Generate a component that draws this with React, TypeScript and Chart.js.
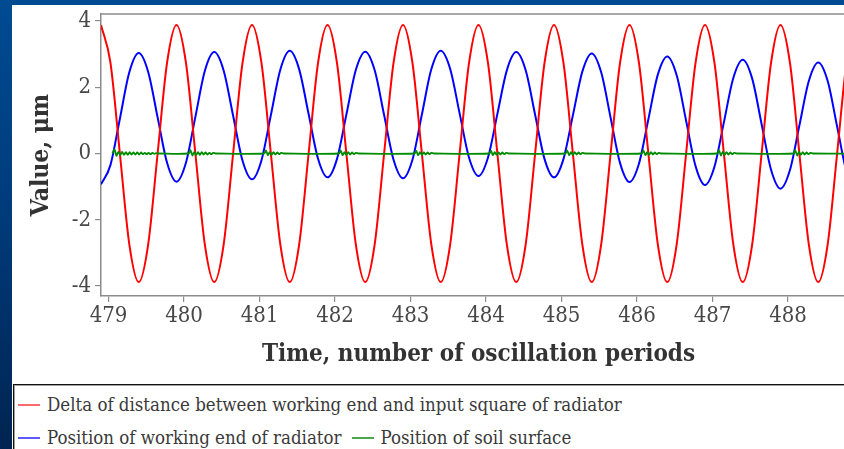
import React, { useEffect, useRef } from "react";
import { Chart, registerables } from "chart.js";

Chart.register(...registerables);

// ---------- data ----------
const X_MIN = 478.9;
const X_MAX = 488.9;
const Y_MIN = -4.3;
const Y_MAX = 4.21;
const xTicks = [479, 480, 481, 482, 483, 484, 485, 486, 487, 488];
const yTicks = [-4, -2, 0, 2, 4];

// sample times: start + step * index (oscillation periods)
const sampleStart = 478.9;
const sampleStep = 0.125;

const redValues = [
  3.88, 2.74, 0, -2.74, -3.88, -2.74, 0, 2.74,
  3.88, 2.74, 0, -2.74, -3.88, -2.74, 0, 2.74,
  3.88, 2.74, 0, -2.74, -3.88, -2.74, 0, 2.74,
  3.88, 2.74, 0, -2.74, -3.88, -2.74, 0, 2.74,
  3.88, 2.74, 0, -2.74, -3.88, -2.74, 0, 2.74,
  3.88, 2.74, 0, -2.74, -3.88, -2.74, 0, 2.74,
  3.88, 2.74, 0, -2.74, -3.88, -2.74, 0, 2.74,
  3.88, 2.74, 0, -2.74, -3.88, -2.74, 0, 2.74,
  3.88, 2.74, 0, -2.74, -3.88, -2.74, 0, 2.74,
  3.88, 2.74, 0, -2.74, -3.88, -2.74, 0, 2.74,
  3.88,
];

const blueValues = [
  -0.93, -0.35, 1.05, 2.45, 3.03, 2.46, 1.09, -0.28,
  -0.85, -0.28, 1.105, 2.49, 3.06, 2.5, 1.14, -0.22,
  -0.78, -0.21, 1.16, 2.53, 3.1, 2.54, 1.19, -0.16,
  -0.72, -0.17, 1.175, 2.52, 3.07, 2.51, 1.16, -0.19,
  -0.75, -0.19, 1.175, 2.54, 3.1, 2.55, 1.21, -0.13,
  -0.68, -0.13, 1.19, 2.51, 3.06, 2.51, 1.17, -0.17,
  -0.72, -0.17, 1.15, 2.47, 3.02, 2.45, 1.08, -0.29,
  -0.86, -0.31, 1.035, 2.38, 2.93, 2.36, 0.99, -0.38,
  -0.95, -0.4, 0.94, 2.28, 2.83, 2.26, 0.885, -0.49,
  -1.06, -0.5, 0.845, 2.19, 2.75, 2.19, 0.815, -0.56,
  -1.12,
];

const greenPoints: [number, number][] = [
  [479.05, 0], [479.08, 0.12], [479.105, -0.07], [479.13, 0.05], [479.155, -0.05],
  [479.18, 0.05], [479.205, -0.04], [479.23, 0.04], [479.255, -0.04], [479.28, 0.04],
  [479.305, -0.03], [479.33, 0.03], [479.355, -0.03], [479.38, 0.03], [479.405, -0.03],
  [479.43, 0.03], [479.455, -0.02], [479.48, 0.02], [479.505, -0.02], [479.53, 0.02],
  [479.555, -0.02], [479.58, 0.02], [479.605, -0.01], [479.63, 0.01], [479.66, 0],
  [480.06, 0], [480.085, 0.1], [480.11, -0.06], [480.135, 0.05], [480.16, -0.05],
  [480.185, 0.04], [480.21, -0.04], [480.235, 0.04], [480.26, -0.03], [480.285, 0.03],
  [480.31, -0.03], [480.335, 0.02], [480.36, -0.02], [480.385, 0.02], [480.42, 0],
  [481.06, 0], [481.085, 0.09], [481.11, -0.05], [481.135, 0.04], [481.16, -0.04],
  [481.185, 0.04], [481.21, -0.03], [481.235, 0.03], [481.26, -0.02], [481.285, 0.02], [481.32, 0],
  [482.05, 0], [482.075, 0.09], [482.1, -0.05], [482.125, 0.04], [482.15, -0.04],
  [482.175, 0.04], [482.2, -0.03], [482.225, 0.03], [482.25, -0.02], [482.275, 0.02], [482.31, 0],
  [483.05, 0], [483.075, 0.08], [483.1, -0.05], [483.125, 0.04], [483.15, -0.04],
  [483.175, 0.03], [483.2, -0.03], [483.225, 0.03], [483.25, -0.02], [483.275, 0.02], [483.31, 0],
  [484.04, 0], [484.065, 0.08], [484.09, -0.05], [484.115, 0.04], [484.14, -0.04],
  [484.165, 0.03], [484.19, -0.03], [484.215, 0.03], [484.24, -0.02], [484.265, 0.02], [484.3, 0],
  [485.05, 0], [485.075, 0.09], [485.1, -0.05], [485.125, 0.04], [485.15, -0.04],
  [485.175, 0.04], [485.2, -0.03], [485.225, 0.03], [485.25, -0.02], [485.275, 0.02], [485.31, 0],
  [486.06, 0], [486.085, 0.09], [486.11, -0.05], [486.135, 0.04], [486.16, -0.04],
  [486.185, 0.04], [486.21, -0.03], [486.235, 0.03], [486.26, -0.02], [486.285, 0.02], [486.32, 0],
  [487.06, 0], [487.085, 0.1], [487.11, -0.06], [487.135, 0.05], [487.16, -0.04],
  [487.185, 0.04], [487.21, -0.03], [487.235, 0.03], [487.26, -0.02], [487.285, 0.02], [487.32, 0],
  [488.07, 0], [488.095, 0.1], [488.12, -0.06], [488.145, 0.05], [488.17, -0.04],
  [488.195, 0.04], [488.22, -0.03], [488.245, 0.03], [488.27, -0.02], [488.295, 0.02], [488.33, 0],
  [488.9, 0],
];

const seriesNames = [
  "Delta of distance between working end and input square of radiator",
  "Position of working end of radiator",
  "Position of soil surface",
];
const xTitle = "Time, number of oscillation periods";
const yTitle = "Value, \u03bcm";

// ---------- styles ----------
const RED = "#ff0000";
const BLUE = "#0000ff";
const GREEN = "#008c00";
const AXIS = "#8c8c8c";
const SERIF = "'DejaVu Serif Condensed', 'DejaVu Serif', serif";

const framePlugin = {
  id: "frameTop",
  afterDraw(chart: any) {
    const { ctx, chartArea } = chart;
    ctx.save();
    ctx.strokeStyle = AXIS;
    ctx.lineWidth = 1.5;
    ctx.beginPath();
    ctx.moveTo(chartArea.left, chartArea.top);
    ctx.lineTo(chartArea.right, chartArea.top);
    ctx.stroke();
    ctx.restore();
  },
};

export default function App() {
  const canvasRef = useRef<HTMLCanvasElement | null>(null);

  useEffect(() => {
    if (!canvasRef.current) return;
    const toXY = (vals: number[]) =>
      vals.map((v, i) => ({ x: sampleStart + i * sampleStep, y: v }));
    const chart = new Chart(canvasRef.current, {
      type: "line",
      data: {
        datasets: [
          {
            label: seriesNames[0],
            data: toXY(redValues),
            borderColor: RED,
            borderWidth: 2,
            pointRadius: 0,
            cubicInterpolationMode: "monotone",
            order: 1,
          },
          {
            label: seriesNames[1],
            data: toXY(blueValues),
            borderColor: BLUE,
            borderWidth: 2,
            pointRadius: 0,
            cubicInterpolationMode: "monotone",
            order: 2,
          },
          {
            label: seriesNames[2],
            data: greenPoints.map(([x, y]) => ({ x, y })),
            borderColor: GREEN,
            borderWidth: 1.8,
            pointRadius: 0,
            tension: 0.3,
            order: 0,
          },
        ],
      },
      options: {
        animation: false,
        responsive: false,
        devicePixelRatio: 1,
        layout: { padding: { top: 9, left: 0, right: 0, bottom: 0 } },
        plugins: { legend: { display: false }, tooltip: { enabled: false } },
        scales: {
          x: {
            type: "linear",
            min: X_MIN,
            max: X_MAX,
            afterBuildTicks: (s: any) => {
              s.ticks = xTicks.map((v) => ({ value: v }));
            },
            afterFit: (s: any) => {
              s.height = 88;
              s.paddingLeft = 0;
              s.paddingRight = 0;
            },
            grid: { drawOnChartArea: false, color: AXIS, tickLength: 6, lineWidth: 1.2 },
            border: { display: true, color: AXIS, width: 1.5 },
            ticks: {
              color: "#484848",
              padding: 1,
              maxRotation: 0,
              autoSkip: false,
              font: { family: SERIF, size: 22 },
            },
            title: {
              display: true,
              text: xTitle,
              color: "#333333",
              font: { family: SERIF, size: 24, weight: "bold" },
              padding: { top: 0, bottom: 15 },
            },
          },
          y: {
            type: "linear",
            min: Y_MIN,
            max: Y_MAX,
            afterBuildTicks: (s: any) => {
              s.ticks = yTicks.map((v) => ({ value: v }));
            },
            afterFit: (s: any) => {
              s.width = 89;
              s.paddingTop = 0;
              s.paddingBottom = 0;
            },
            grid: { drawOnChartArea: false, color: AXIS, tickLength: 6, lineWidth: 1.2 },
            border: { display: true, color: AXIS, width: 1.5 },
            ticks: {
              color: "#484848",
              padding: 4,
              font: { family: SERIF, size: 22 },
            },
            title: {
              display: true,
              text: yTitle,
              color: "#333333",
              font: { family: SERIF, size: 24.5, weight: "bold" },
              padding: { top: 15, bottom: 0 },
            },
          },
        },
      },
      plugins: [framePlugin],
    } as any);
    return () => chart.destroy();
  }, []);

  const legendText: React.CSSProperties = {
    fontFamily: SERIF,
    fontSize: 18.5,
    color: "#3a3a3a",
    whiteSpace: "nowrap",
  };
  const marker = (color: string, ml: number): React.CSSProperties => ({
    display: "inline-block",
    width: 22,
    height: 0,
    borderTop: `2px solid ${color}`,
    marginLeft: ml,
    marginRight: 7,
    verticalAlign: "middle",
  });

  return (
    <div
      style={{
        position: "fixed",
        left: 0,
        top: 0,
        width: 844,
        height: 449,
        overflow: "hidden",
        background: "linear-gradient(180deg, #004b92 0%, #003c7c 45%, #002451 100%)",
      }}
    >
      <div
        style={{
          position: "absolute",
          left: 12,
          top: 5,
          width: 900,
          height: 460,
          background: "#ffffff",
        }}
      >
        <canvas
          ref={canvasRef}
          width={844}
          height={379}
          style={{ position: "absolute", left: 0, top: 0, width: 844, height: 379 }}
        />
        <div
          style={{
            position: "absolute",
            left: 1,
            top: 379,
            width: 950,
            height: 100,
            borderTop: "1px solid #111",
            borderLeft: "1px solid #111",
            boxShadow: "inset 1px 1px 0 #a0a0a0",
          }}
        >
          <div style={{ position: "absolute", left: 0, top: 9, height: 20, lineHeight: "20px", ...legendText }}>
            <span style={marker("#ff6a6a", 4)} />
            <span style={{ verticalAlign: "middle" }}>{seriesNames[0]}</span>
          </div>
          <div style={{ position: "absolute", left: 0, top: 42, height: 20, lineHeight: "20px", ...legendText }}>
            <span style={marker("#5a5aff", 4)} />
            <span style={{ verticalAlign: "middle" }}>{seriesNames[1]}</span>
            <span style={marker("#4aa84a", 10)} />
            <span style={{ verticalAlign: "middle" }}>{seriesNames[2]}</span>
          </div>
        </div>
      </div>
    </div>
  );
}
